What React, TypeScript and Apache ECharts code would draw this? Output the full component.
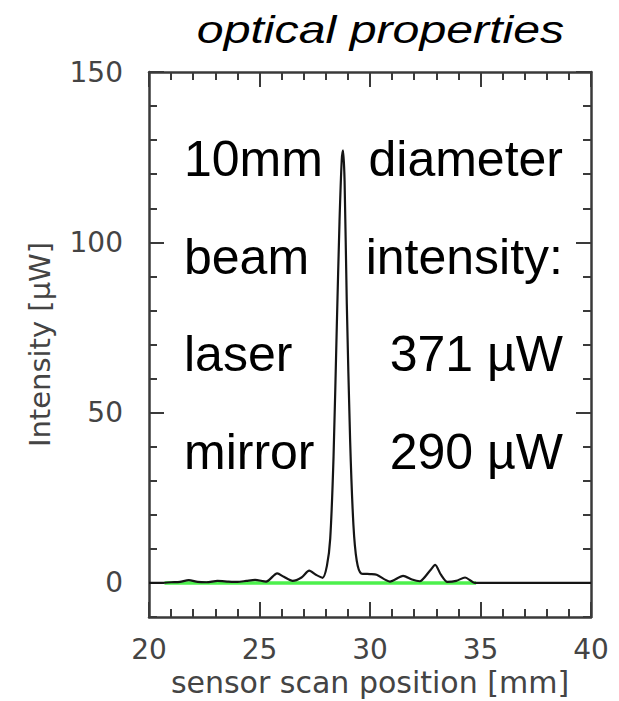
import { useEffect, useRef } from "react";
import * as echarts from "echarts";

// sensor scan position [mm]
const scanPosition = [
  20, 20.5, 21, 21.4, 21.8, 22.2, 22.6, 23.1, 23.6, 24.0, 24.4, 24.8, 25.3, 25.8,
  26.1, 26.5, 26.9, 27.25, 27.55, 27.85, 28.05, 28.2, 28.35, 28.5, 28.62, 28.72,
  28.78, 28.85, 28.95, 29.1, 29.25, 29.4, 29.6, 30.0, 30.3, 30.9, 31.5, 31.9,
  32.25, 32.7, 32.95, 33.2, 33.5, 33.9, 34.3, 34.75, 35.5, 37, 38.5, 40,
];
// Intensity [μW]
const intensity = [
  0, 0, 0.2, 0.3, 0.8, 0.3, 0.2, 0.6, 0.4, 0.3, 0.6, 0.9, 0.4, 2.8,
  1.8, 0.6, 1.6, 3.6, 2.4, 1.5, 5, 13, 37, 76, 106, 124,
  127, 118, 82, 42, 17, 6.5, 2.8, 2.6, 2.4, 0.4, 2.1, 1.0,
  0.5, 3.5, 5.3, 2.5, 0.3, 0.6, 1.6, 0, 0, 0, 0, 0,
];
const baselineX = [20.7, 34.8];
const baselineY = [0, 0];

const yLabelValues = [0, 50, 100, 150];
const yMajorTicks = [0, 50, 100, 150];

const titleText = "optical properties";
const notesLeft = ["10mm", "beam", "laser", "mirror"];
const notesRight = ["diameter", "intensity:", "371 µW", "290 µW"];
const noteRowY = [159, 257, 354, 452];

const AX = "#3a3a3a";
const labelFont = { fontFamily: "DejaVu Sans", fontSize: 28, color: "#444" };

export default function App() {
  const ref = useRef<HTMLDivElement>(null);
  useEffect(() => {
    const chart = echarts.init(ref.current!, null, { renderer: "svg" });
    const lineStyle = { color: AX, width: 2.5 };
    const tickStyle = { color: AX, width: 2 };
    const xCommon = {
      type: "value",
      min: 20,
      max: 40,
      interval: 5,
      axisLine: { show: true, onZero: false, lineStyle },
      axisTick: { show: true, inside: true, length: 15, lineStyle: tickStyle },
      minorTick: { show: true, splitNumber: 5, length: 8, lineStyle: tickStyle },
      splitLine: { show: false },
      minorSplitLine: { show: false },
    };
    const yMinor = {
      type: "value",
      min: -10,
      max: 150,
      interval: 10,
      axisLine: { show: true, onZero: false, lineStyle },
      axisTick: { show: true, inside: true, length: 8, lineStyle: tickStyle },
      splitLine: { show: false },
    };
    const yMajor = {
      type: "value",
      min: -10,
      max: 150,
      axisLine: { show: false, onZero: false },
      axisTick: { show: true, inside: true, length: 15, lineStyle: tickStyle, customValues: yMajorTicks },
      axisLabel: { show: false },
      splitLine: { show: false },
    };
    const graphics: any[] = [
      {
        type: "text",
        x: 380.5,
        y: 30,
        scaleX: 1.27,
        style: {
          text: titleText,
          font: 'italic 38px "Liberation Sans"',
          fill: "#000",
          align: "center",
          verticalAlign: "middle",
          textAlign: "center",
          textVerticalAlign: "middle",
        },
      },
    ];
    notesLeft.forEach((t, i) => {
      graphics.push({
        type: "text",
        x: 184,
        y: noteRowY[i],
        style: {
          text: t,
          font: '50px "Liberation Sans"',
          fill: "#000",
          align: "left",
          verticalAlign: "middle",
          textAlign: "left",
          textVerticalAlign: "middle",
        },
      });
    });
    notesRight.forEach((t, i) => {
      graphics.push({
        type: "text",
        x: 563,
        y: noteRowY[i],
        style: {
          text: t,
          font: '50px "Liberation Sans"',
          fill: "#000",
          align: "right",
          verticalAlign: "middle",
          textAlign: "right",
          textVerticalAlign: "middle",
        },
      });
    });

    chart.setOption({
      animation: false,
      backgroundColor: "#fff",
      grid: { left: 149, right: 28, top: 72, bottom: 84, containLabel: false, outerBoundsMode: "none" },
      xAxis: [
        {
          ...xCommon,
          position: "bottom",
          axisLabel: { ...labelFont, margin: 18 },
          name: "sensor scan position [mm]",
          nameLocation: "middle",
          nameGap: 50,
          nameTextStyle: { fontFamily: "DejaVu Sans", fontSize: 30, color: "#444" },
        },
        { ...xCommon, position: "top", axisLabel: { show: false } },
      ],
      yAxis: [
        {
          ...yMinor,
          position: "left",
          axisLabel: {
            ...labelFont,
            margin: 26,
            formatter: (v: number) => (yLabelValues.includes(v) ? String(v) : ""),
          },
          name: "Intensity [μW]",
          nameLocation: "middle",
          nameGap: 95,
          nameTextStyle: { fontFamily: "DejaVu Sans", fontSize: 29, color: "#444" },
        },
        { ...yMajor, position: "left" },
        { ...yMinor, position: "right", axisLabel: { show: false } },
        { ...yMajor, position: "right" },
      ],
      graphic: graphics,
      series: [
        {
          type: "line",
          xAxisIndex: 0,
          yAxisIndex: 0,
          data: baselineX.map((x, i) => [x, baselineY[i]]),
          showSymbol: false,
          lineStyle: { color: "#4cf04c", width: 3.5 },
          z: 2,
        },
        {
          type: "line",
          xAxisIndex: 0,
          yAxisIndex: 0,
          data: scanPosition.map((x, i) => [x, intensity[i]]),
          showSymbol: false,
          smooth: 0.25,
          lineStyle: { color: "#151515", width: 2.2 },
          z: 3,
        },
      ],
    });
    return () => chart.dispose();
  }, []);
  return <div ref={ref} style={{ position: "absolute", left: 0, top: 0, width: 619, height: 701 }} />;
}
